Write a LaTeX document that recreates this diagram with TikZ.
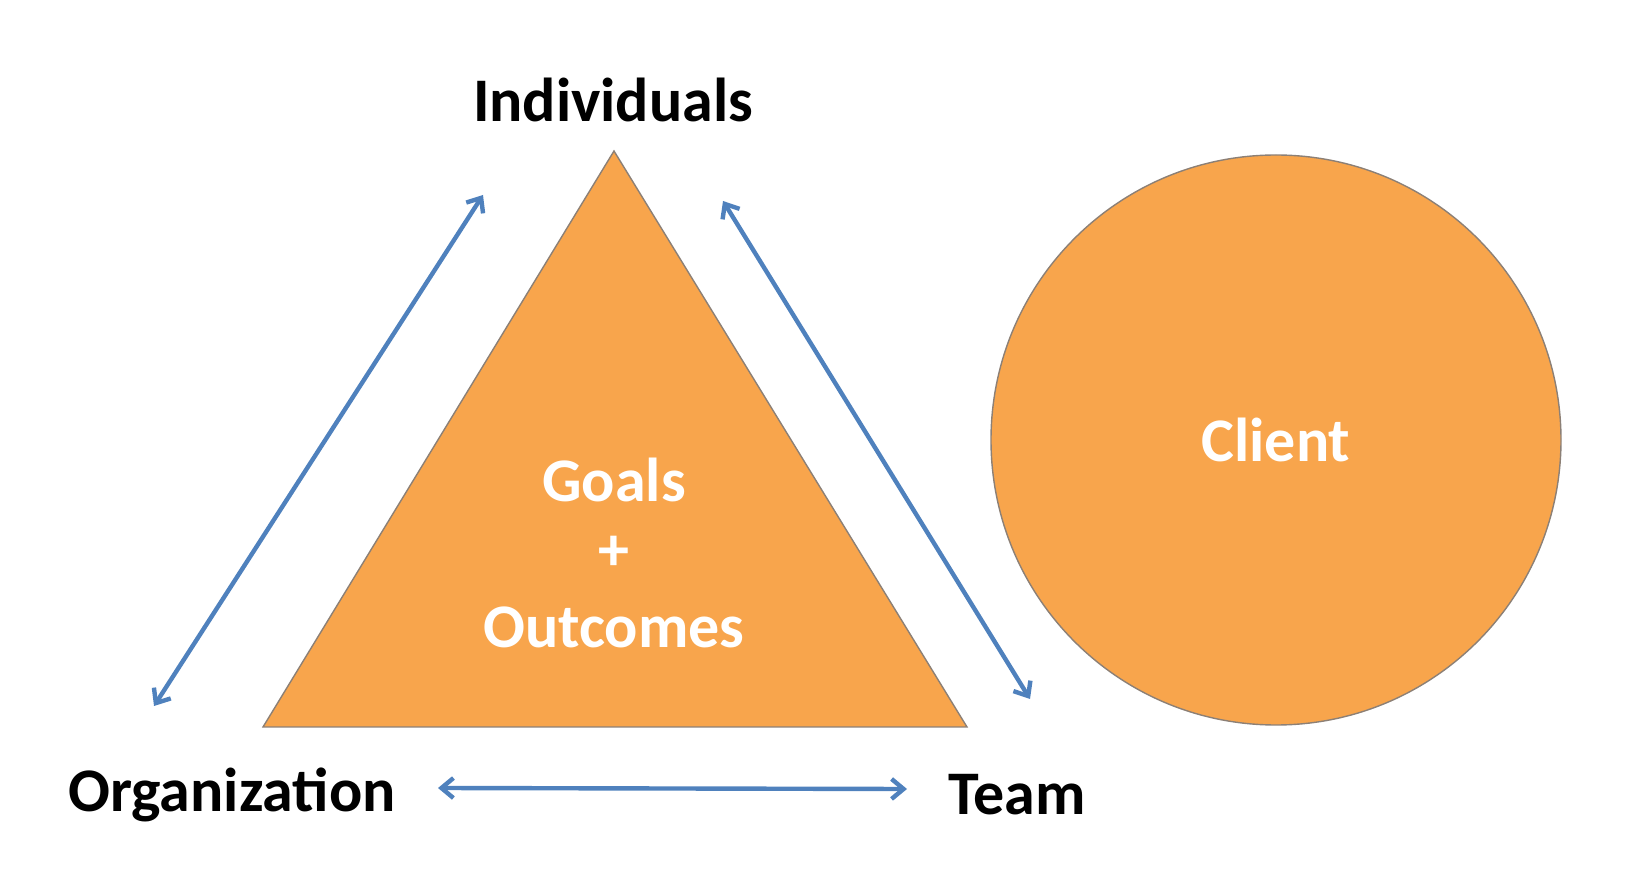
\documentclass[tikz,border=0pt]{standalone}
\usepackage{fontspec}
\setmainfont{Carlito}
\usetikzlibrary{arrows.meta}
\definecolor{shapeorange}{RGB}{248,165,76}
\definecolor{shapeedge}{RGB}{140,128,118}
\definecolor{linkblue}{RGB}{79,129,189}

\begin{document}
\begin{tikzpicture}[x=0.5pt,y=-0.5pt,
 lbl/.style={font=\fontsize{31}{36}\selectfont\bfseries},
 inlbl/.style={lbl,text=white},
 link/.style={linkblue,line width=2.2pt,{Straight Barb[length=6pt,width=10pt]}-{Straight Barb[length=6pt,width=10pt]}}]
\useasboundingbox(0,0)rectangle(1635,871);
\coordinate(apex)at(614,151);\coordinate(bleft)at(263,727);\coordinate(bright)at(967,727);
\draw[fill=shapeorange,draw=shapeedge,line width=.7pt](apex)--(bright)--(bleft)--cycle;
\node[circle,fill=shapeorange,draw=shapeedge,line width=.7pt,minimum size=285pt,inner sep=0,inlbl](client)at(1276,440){Client};
\node[lbl](indiv)at(613,100){Individuals};\node[lbl](org)at(232,795){Organization};\node[lbl](team)at(1017,795){Team};
\node[inlbl](goals)at(614,480){Goals};\node[inlbl](plus)at(614,553){+};\node[inlbl](outc)at(614,627){Outcomes};
\coordinate(l1)at(154,706);\coordinate(l2)at(483,195);\coordinate(r1)at(723,201);\coordinate(r2)at(1030,699);\coordinate(b1)at(438,788);\coordinate(b2)at(907,789);
\draw[link](l1)--(l2);\draw[link](r1)--(r2);\draw[link](b1)--(b2);
\end{tikzpicture}
\end{document}
